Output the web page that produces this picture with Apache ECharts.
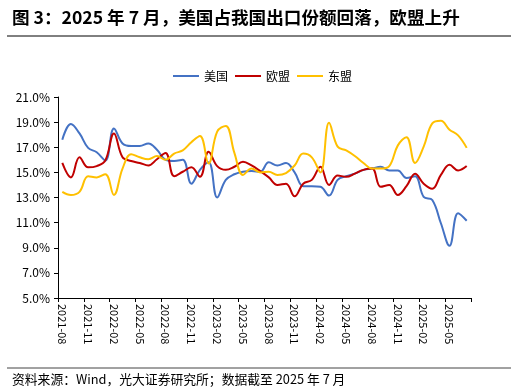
<!DOCTYPE html>
<html>
<head>
<meta charset="utf-8">
<script src="https://cdn.jsdelivr.net/npm/echarts@6/dist/echarts.min.js"></script>
<style>
html,body{margin:0;padding:0;background:#fff;}
#chart{width:516px;height:389px;}
</style>
</head>
<body>
<div id="chart"></div>
<script>
var categories = ["2021-08","2021-09","2021-10","2021-11","2021-12","2022-01","2022-02","2022-03","2022-04","2022-05","2022-06","2022-07","2022-08","2022-09","2022-10","2022-11","2022-12","2023-01","2023-02","2023-03","2023-04","2023-05","2023-06","2023-07","2023-08","2023-09","2023-10","2023-11","2023-12","2024-01","2024-02","2024-03","2024-04","2024-05","2024-06","2024-07","2024-08","2024-09","2024-10","2024-11","2024-12","2025-01","2025-02","2025-03","2025-04","2025-05","2025-06","2025-07"];
var usValues = [17.6,18.85,18.1,16.95,16.6,15.95,18.5,17.3,17.1,17.1,17.3,16.8,16.0,15.9,16.0,14.1,15.2,15.8,13.0,14.4,14.85,15.05,15.1,15.05,15.8,15.55,15.75,15.0,13.9,13.9,13.85,13.15,14.4,14.7,14.9,15.2,15.3,15.45,15.15,15.15,14.55,14.7,13.05,12.8,10.95,9.15,11.75,11.15];
var euValues = [15.75,14.6,16.2,15.4,15.5,15.95,18.1,16.2,15.9,15.75,15.55,16.05,16.55,14.7,15.05,15.4,14.65,16.65,15.5,15.2,15.45,15.85,15.55,15.1,14.6,14.0,14.1,13.1,14.1,14.4,15.45,14.0,14.75,14.65,14.9,15.2,15.3,13.85,14.0,13.2,13.9,14.9,14.1,13.7,14.8,15.6,15.15,15.5];
var aseanValues = [13.45,13.2,13.45,14.7,14.6,14.85,13.2,15.3,16.45,16.2,16.05,16.3,16.0,16.5,16.75,17.4,17.9,15.7,18.25,18.7,16.55,14.8,15.3,15.0,15.05,14.8,14.95,15.55,16.5,16.2,15.0,18.95,17.05,16.75,16.3,15.75,15.3,15.3,15.5,17.15,17.8,15.75,17.05,18.9,19.1,18.4,17.95,16.95];
var seriesNames = ["美国","欧盟","东盟"];
var titleText = "图 3：2025 年 7 月，美国占我国出口份额回落，欧盟上升";
var sourceText = "资料来源：Wind，光大证券研究所；数据截至 2025 年 7 月";

var FONT = '"Noto Sans CJK SC", "Noto Sans", sans-serif';
var chart = echarts.init(document.getElementById('chart'), null, {renderer: 'canvas'});
function mk(name, data, color) {
  return {
    name: name, type: 'line', data: data, smooth: 0.4,
    symbol: 'none', showSymbol: false,
    lineStyle: {color: color, width: 2},
    itemStyle: {color: color}
  };
}
chart.setOption({
  animation: false,
  textStyle: {fontFamily: FONT},
  title: [
    {text: titleText, left: 7, top: 4,
     textStyle: {fontSize: 17.6, fontWeight: 'bold', color: '#000', fontFamily: FONT}},
    {text: sourceText, left: 7, top: 368,
     textStyle: {fontSize: 12.8, fontWeight: 'normal', color: '#000', fontFamily: FONT}}
  ],
  graphic: [
    {type: 'line', shape: {x1: 7, y1: 36, x2: 511, y2: 36}, style: {stroke: '#000', lineWidth: 1}},
    {type: 'line', shape: {x1: 7, y1: 368, x2: 511, y2: 368}, style: {stroke: '#444', lineWidth: 1}}
  ],
  legend: {
    data: seriesNames, left: 168, top: 65,
    icon: 'rect', itemWidth: 26, itemHeight: 2, itemGap: 7,
    textStyle: {fontSize: 12, color: '#000', fontFamily: FONT}
  },
  grid: {left: 58, right: 45, top: 97, bottom: 91, containLabel: false},
  xAxis: {
    type: 'category', data: categories, boundaryGap: true,
    axisLine: {lineStyle: {color: '#000', width: 1}},
    axisTick: {show: true, interval: 2, length: 4, lineStyle: {color: '#000'}},
    axisLabel: {interval: 2, rotate: -90, margin: 6, fontSize: 11, color: '#000', fontFamily: FONT}
  },
  yAxis: {
    type: 'value', min: 5, max: 21, interval: 2,
    splitLine: {show: false},
    axisLine: {show: true, lineStyle: {color: '#000', width: 1}},
    axisTick: {show: true, length: 4, lineStyle: {color: '#000'}},
    axisLabel: {margin: 8, fontSize: 12, color: '#000', fontFamily: FONT,
      formatter: function (v) { return v.toFixed(1) + '%'; }}
  },
  series: [
    mk(seriesNames[0], usValues, '#4472C4'),
    mk(seriesNames[1], euValues, '#C00000'),
    mk(seriesNames[2], aseanValues, '#FFC000')
  ]
});
</script>
</body>
</html>
